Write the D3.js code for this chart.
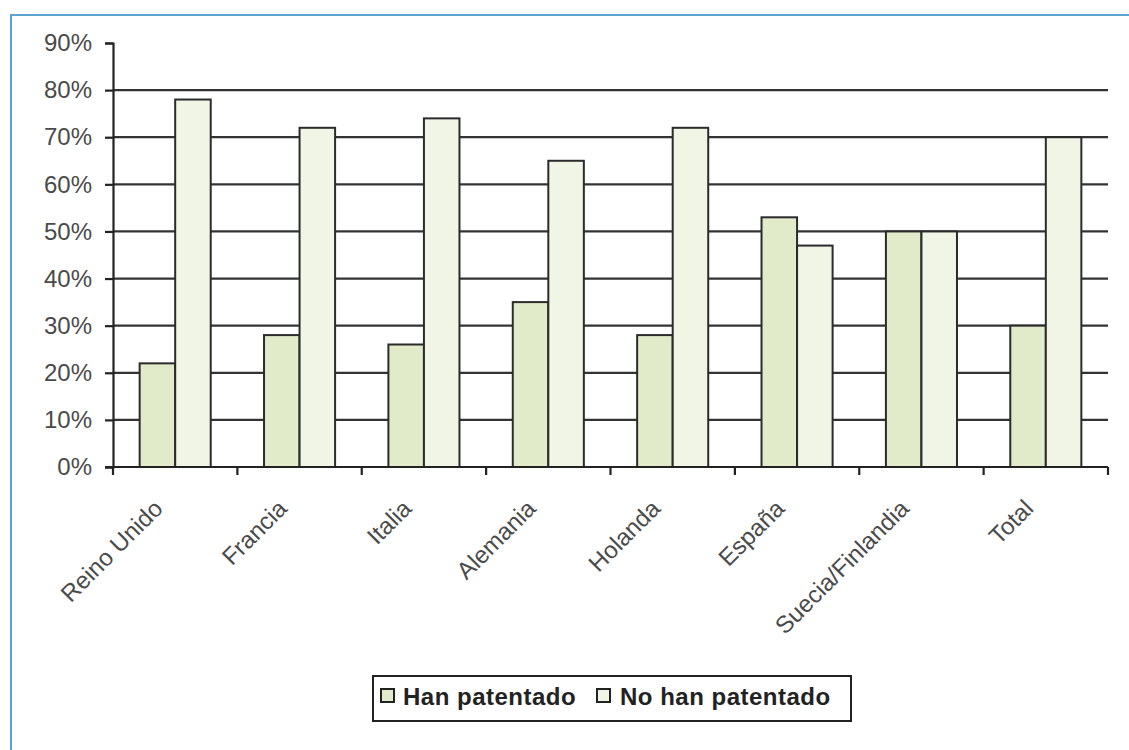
<!DOCTYPE html>
<html>
<head>
<meta charset="utf-8">
<script src="https://cdn.jsdelivr.net/npm/d3@7"></script>
<style>
  html, body { margin: 0; padding: 0; background: #fff; }
  svg { display: block; }
</style>
</head>
<body>
<svg id="chart" width="1129" height="750"></svg>
<script>
// Categories and shares (percent) of each group
const categories = ["Reino Unido", "Francia", "Italia", "Alemania", "Holanda", "España", "Suecia/Finlandia", "Total"];
const hanPatentado = [22, 28, 26, 35, 28, 53, 50, 30];
const noHanPatentado = [78, 72, 74, 65, 72, 47, 50, 70];
const seriesNames = ["Han patentado", "No han patentado"];
const yTicks = [0, 10, 20, 30, 40, 50, 60, 70, 80, 90];

const colors = ["#e1ebca", "#f1f5e5"];
const font = "'Liberation Sans', Arial, sans-serif";

const svg = d3.select("#chart");

// Outer frame (open to the right and bottom)
svg.append("path")
  .attr("d", "M11,750 V15 H1129")
  .attr("fill", "none")
  .attr("stroke", "#5ba4cf")
  .attr("stroke-width", 2);

const margin = { left: 113, right: 1108, top: 43, bottom: 467 };

const x = d3.scaleBand().domain(categories).range([margin.left, margin.right]).paddingInner(0).paddingOuter(0);
const y = d3.scaleLinear().domain([0, 90]).range([margin.bottom, margin.top]);

// Two bars per category, with a gap of 1.5 bar widths shared around them
const x1 = d3.scaleBand().domain(seriesNames)
  .range([0, x.bandwidth()])
  .paddingOuter(0.75).paddingInner(0);

// Horizontal gridlines
svg.append("g")
  .selectAll("line")
  .data(yTicks.filter(d => d > 0 && d < 90))
  .join("line")
  .attr("x1", margin.left)
  .attr("x2", margin.right)
  .attr("y1", d => y(d))
  .attr("y2", d => y(d))
  .attr("stroke", "#333")
  .attr("stroke-width", 2.2);

// Bars
const rows = categories.map((c, i) => ({ cat: c, values: [hanPatentado[i], noHanPatentado[i]] }));
const groups = svg.append("g").selectAll("g")
  .data(rows)
  .join("g")
  .attr("transform", d => `translate(${x(d.cat)},0)`);

groups.selectAll("rect")
  .data(d => d.values.map((v, j) => ({ name: seriesNames[j], v, j })))
  .join("rect")
  .attr("x", d => x1(d.name))
  .attr("width", x1.bandwidth())
  .attr("y", d => y(d.v))
  .attr("height", d => y(0) - y(d.v))
  .attr("fill", d => colors[d.j])
  .attr("stroke", "#2b2b2b")
  .attr("stroke-width", 2);

// Y axis
const yAxis = d3.axisLeft(y).tickValues(yTicks).tickFormat(d => d + "%").tickSize(8).tickPadding(13);
const gy = svg.append("g").attr("transform", `translate(${margin.left},0)`).call(yAxis);
gy.select(".domain").attr("stroke", "#222").attr("stroke-width", 2.2);
gy.selectAll(".tick line").attr("stroke", "#222").attr("stroke-width", 2.2);
gy.selectAll("text")
  .attr("font-family", font)
  .attr("font-size", 24)
  .attr("fill", "#4a4a4a");

// X axis: ticks at category boundaries
svg.append("line")
  .attr("x1", margin.left - 8).attr("x2", margin.right)
  .attr("y1", y(0)).attr("y2", y(0))
  .attr("stroke", "#222").attr("stroke-width", 2.2);

const boundaries = categories.map(c => x(c)).concat([margin.right]);
svg.append("g").selectAll("line")
  .data(boundaries)
  .join("line")
  .attr("x1", d => d).attr("x2", d => d)
  .attr("y1", y(0)).attr("y2", y(0) + 8)
  .attr("stroke", "#222").attr("stroke-width", 2.2);

// Category labels, rotated
svg.append("g").selectAll("text")
  .data(categories)
  .join("text")
  .attr("transform", d => `translate(${x(d) + x.bandwidth() / 2 - 11},${y(0) + 43}) rotate(-45)`)
  .attr("text-anchor", "end")
  .attr("font-family", font)
  .attr("font-size", 24)
  .attr("fill", "#4a4a4a")
  .text(d => d);

// Legend
const legend = svg.append("g");
legend.append("rect")
  .attr("x", 373).attr("y", 676)
  .attr("width", 478).attr("height", 45)
  .attr("fill", "#fff")
  .attr("stroke", "#222").attr("stroke-width", 2);

const legendItems = [
  { name: seriesNames[0], x: 381, tx: 403 },
  { name: seriesNames[1], x: 597, tx: 620 }
];
legendItems.forEach((it, i) => {
  legend.append("rect")
    .attr("x", it.x).attr("y", 689)
    .attr("width", 13).attr("height", 13)
    .attr("fill", colors[i])
    .attr("stroke", "#222").attr("stroke-width", 2);
  legend.append("text")
    .attr("x", it.tx).attr("y", 705)
    .attr("font-family", font)
    .attr("font-size", 24)
    .attr("letter-spacing", 0.5)
    .attr("font-weight", "bold")
    .attr("fill", "#222")
    .text(it.name);
});
</script>
</body>
</html>
